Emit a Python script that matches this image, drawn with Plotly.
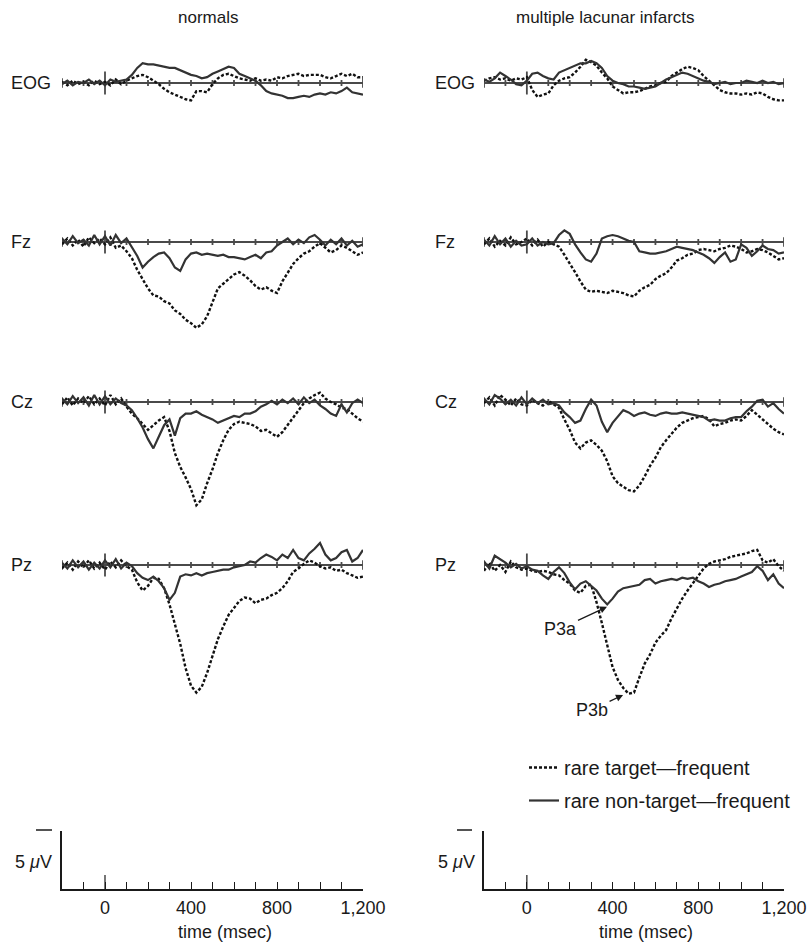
import plotly.graph_objects as go

# ---------------- data (µV, positive plotted downward) ----------------
TIME_MS = list(range(-200, 1201, 25))
TICKS_MS = list(range(-200, 1201, 100))
TICK_LABEL_MS = [0, 400, 800, 1200]
TICK_LABELS = ["0", "400", "800", "1,200"]
CHANNELS = ["EOG", "Fz", "Cz", "Pz"]
GROUPS = ["normals", "multiple lacunar infarcts"]
SERIES_NAMES = ["rare target\u2014frequent", "rare non-target\u2014frequent"]

# normals: rare target - frequent (dotted)
N_EOG_T = [-0.1, 0.2, -0.2, 0.1, -0.1, 0.2, -0.2, 0.1,
           -0.1, 0.2, -0.3, 0.1, -0.2, -0.4, -0.6, -0.7,
           -0.5, -0.2, 0.1, 0.5, 0.8, 1.0, 1.2, 1.4,
           1.5, 0.7, 0.7, 0.8, 0.1, -0.4, -0.7, -0.8,
           -0.6, -0.4, -0.3, -0.2, -0.4, -0.2, -0.3, -0.2,
           -0.5, -0.4, -0.6, -0.7, -0.8, -0.6, -0.7, -0.7,
           -0.7, -0.5, -0.4, -0.6, -0.8, -0.6, -0.8, -0.5,
           -0.5]
N_FZ_T = [0.2, -0.3, 0.3, -0.2, 0.4, -0.4, 0.1, -0.3,
          0.2, -0.4, 0.5, 0.3, 0.8, 1.4, 2.4, 3.2,
          4.0, 4.6, 4.7, 5.1, 5.3, 5.9, 6.2, 6.7,
          7.0, 7.4, 7.1, 6.4, 5.2, 4.0, 3.6, 3.2,
          2.8, 2.6, 2.9, 3.3, 3.8, 4.1, 3.9, 4.2,
          4.4, 3.4, 2.6, 1.9, 1.4, 1.0, 0.8, 0.4,
          0.1, 0.5, 0.9, 0.7, 0.3, 0.5, 0.8, 1.1,
          0.9]
N_CZ_T = [0.2, -0.4, 0.3, -0.3, 0.1, -0.5, 0.2, -0.3,
          0.3, -0.6, 0.2, -0.3, 0.4, 1.0, 1.4, 1.9,
          2.4, 2.0, 1.6, 1.3, 2.5, 4.4, 5.6, 6.5,
          7.5, 8.9, 8.4, 7.0, 5.8, 4.4, 3.3, 2.4,
          1.9, 1.7, 1.8, 1.9, 2.1, 2.5, 2.4, 2.7,
          3.0, 2.6, 2.0, 1.3, 0.8, 0.1, -0.3, -0.6,
          -0.8, -0.3, 0.0, 0.2, 0.5, 0.6, 1.0, 1.4,
          1.7]
N_PZ_T = [0.3, -0.2, 0.4, -0.3, 0.2, -0.4, 0.3, -0.2,
          0.4, -0.3, 0.2, -0.4, 0.1, 0.4, 1.5, 2.2,
          1.8, 1.1, 1.2, 2.0, 3.4, 5.2, 6.8, 8.9,
          10.4, 11.0, 10.5, 9.3, 7.8, 6.4, 5.3, 4.3,
          3.7, 3.1, 2.8, 2.9, 3.3, 3.0, 2.9, 2.6,
          2.4, 2.0, 1.4, 0.6, 0.3, -0.1, -0.4, -0.2,
          0.1, 0.3, 0.2, 0.5, 0.4, 0.7, 0.9, 1.1,
          1.0]

# normals: rare non-target - frequent (solid)
N_EOG_N = [0.1, -0.2, 0.2, -0.1, 0.0, -0.3, 0.1, -0.2,
           0.2, -0.3, -0.1, -0.2, -0.3, -0.7, -1.3, -1.7,
           -1.6, -1.6, -1.5, -1.4, -1.3, -1.3, -1.1, -0.9,
           -0.7, -0.6, -0.4, -0.5, -0.8, -1.0, -1.2, -1.4,
           -1.3, -0.8, -0.6, -0.4, -0.2, 0.2, 0.7, 0.9,
           1.0, 1.1, 1.3, 1.3, 1.2, 1.1, 1.2, 1.0,
           0.9, 1.0, 0.8, 0.9, 0.7, 0.4, 0.8, 0.9,
           1.0]
N_FZ_N = [-0.3, 0.2, -0.5, 0.1, -0.2, 0.3, -0.6, 0.2,
          -0.5, 0.3, -0.6, 0.1, -0.3, 0.4, 1.2, 2.2,
          1.7, 1.3, 1.0, 0.9, 1.4, 2.2, 2.5, 1.5,
          1.0, 0.9, 1.1, 1.0, 1.1, 1.2, 1.1, 1.3,
          1.3, 1.4, 1.5, 1.3, 1.1, 1.4, 0.9, 0.8,
          0.3, 0.0, -0.3, 0.2, -0.2, 0.1, -0.4, -0.6,
          -0.2, 0.3, -0.2, 0.2, -0.3, 0.3, -0.1, 0.4,
          0.2]
N_CZ_N = [-0.3, 0.2, -0.5, 0.1, -0.4, 0.3, -0.6, 0.2,
          -0.5, 0.2, -0.3, 0.1, 0.3, 0.7, 1.4, 2.2,
          3.2, 4.0, 3.0, 2.0, 1.5, 2.9, 1.4, 1.0,
          1.0, 0.8, 1.1, 1.3, 1.5, 1.8, 1.6, 1.4,
          1.2, 1.3, 1.0, 1.0, 0.8, 0.4, 0.2, -0.1,
          0.2, -0.2, 0.1, -0.3, 0.2, -0.4, 0.1, -0.2,
          0.3, 0.6, 1.0, 1.2, 0.2, 0.9, 0.1, -0.2,
          0.1]
N_PZ_N = [-0.2, 0.3, -0.4, 0.2, -0.3, 0.4, -0.2, 0.3,
          -0.4, 0.2, -0.5, 0.3, -0.2, 0.1, 0.7, 1.1,
          1.3, 1.0, 1.4, 2.0, 3.0, 2.4, 1.0, 0.8,
          0.9, 0.7, 0.9, 0.7, 0.6, 0.5, 0.4, 0.4,
          0.2, 0.1, 0.0, -0.3, -0.2, -0.6, -0.9, -0.7,
          -0.4, -0.9, -0.6, -1.3, -0.6, -0.4, -1.0, -1.4,
          -1.9, -0.9, -0.4, -0.6, -1.1, -1.3, -0.3, -0.6,
          -1.3]

# multiple lacunar infarcts: rare target - frequent (dotted)
L_EOG_T = [-0.2, -0.4, -0.5, -0.3, -0.4, -0.2, -0.4, -0.3,
           -0.5, 0.6, 1.2, 1.0, 0.9, 0.2, -0.2, -0.4,
           -0.5, -0.9, -1.4, -2.0, -1.8, -1.5, -0.9, -0.4,
           0.3, 0.6, 0.9, 0.8, 0.8, 0.7, 0.5, 0.3,
           0.2, 0.0, -0.1, -0.6, -0.9, -1.2, -1.4, -1.3,
           -1.1, -0.6, -0.2, 0.2, 0.6, 0.8, 0.9, 0.9,
           1.0, 0.9, 1.0, 0.8, 0.9, 1.2, 1.4, 1.5,
           1.5]
L_FZ_T = [0.2, -0.3, 0.4, -0.1, 0.3, -0.4, 0.2, 0.0,
          -0.3, 0.3, -0.2, 0.4, 0.0, 0.2, 0.4, 1.1,
          1.8, 2.6, 3.4, 4.1, 4.3, 4.2, 4.3, 4.4,
          4.2, 4.3, 4.4, 4.6, 4.7, 4.2, 3.9, 3.7,
          3.2, 2.9, 2.7, 2.2, 1.6, 1.4, 1.1, 1.0,
          0.7, 0.6, 0.7, 0.8, 0.6, 0.5, 0.3, 0.4,
          0.6, 0.9, 0.8, 0.6, 0.7, 0.9, 1.2, 1.5,
          1.4]
L_CZ_T = [0.1, -0.4, 0.3, -0.6, -0.2, 0.3, -0.3, 0.2,
          0.3, -0.2, 0.1, 0.3, -0.1, 0.2, 0.5, 1.5,
          2.4, 3.5, 4.0, 3.5, 3.3, 3.7, 4.2, 5.1,
          6.4, 7.0, 7.3, 7.6, 7.7, 7.2, 6.4, 5.5,
          4.8, 3.9, 3.3, 2.7, 2.2, 1.8, 1.6, 1.4,
          1.3, 1.2, 1.5, 2.1, 1.9, 1.8, 1.6, 1.5,
          1.6, 1.2, 0.7, 1.1, 1.5, 1.9, 2.3, 2.6,
          2.8]
L_PZ_T = [0.5, -0.2, 0.5, 0.0, 0.6, -0.3, 0.2, 0.4,
          0.3, 0.5, 0.6, 0.5, 0.6, 0.8, 0.9, 1.3,
          1.6, 2.2, 2.4, 1.8, 1.7, 3.2, 5.0, 6.9,
          8.8, 9.9, 10.6, 11.1, 11.0, 9.7, 8.5, 7.7,
          6.7, 6.1, 5.6, 4.6, 3.7, 2.9, 2.2, 1.6,
          1.0, 0.3, -0.1, -0.3, -0.4, -0.5, -0.7, -0.8,
          -0.9, -1.0, -1.2, -1.3, -0.4, -0.2, -0.5, 0.1,
          0.5]

# multiple lacunar infarcts: rare non-target - frequent (solid)
L_EOG_N = [-0.3, -0.1, -0.4, -0.9, -0.6, -0.3, 0.1, 0.2,
           -0.2, -0.8, -0.9, -0.6, -0.4, -0.3, -0.9, -1.1,
           -1.3, -1.5, -1.7, -1.7, -1.9, -1.7, -1.3, -0.6,
           -0.2, 0.0, 0.1, 0.3, 0.3, 0.4, 0.5, 0.4,
           0.3, 0.0, -0.3, -0.5, -0.7, -0.9, -0.8, -0.6,
           -0.4, -0.2, -0.1, 0.1, 0.0, -0.1, 0.1, 0.0,
           0.0, -0.2, -0.1, 0.0, -0.2, 0.0, -0.1, 0.1,
           0.0]
L_FZ_N = [-0.2, 0.3, -0.5, 0.2, -0.3, 0.4, -0.1, 0.3,
          0.2, -0.3, 0.3, 0.0, 0.2, 0.1, -0.6, -1.0,
          -0.7, 0.2, 0.9, 1.5, 1.7, 1.0, -0.3, -0.5,
          -0.6, -0.5, -0.3, -0.1, 0.0, 0.8, 0.9, 1.0,
          1.0, 0.9, 0.8, 0.6, 0.4, 0.5, 0.6, 0.7,
          0.9, 1.1, 1.4, 1.8, 1.3, 0.9, 1.7, 1.5,
          0.2, 0.5, 1.2, 0.8, 0.3, 0.6, 0.7, 1.0,
          0.9]
L_CZ_N = [-0.3, 0.2, -0.6, -0.3, 0.2, -0.2, 0.3, -0.4,
          0.2, -0.3, 0.1, -0.2, 0.2, 0.1, 0.3, 0.9,
          1.3, 1.8, 1.6, 0.6, -0.2, 0.3, 1.7, 2.6,
          1.8, 1.2, 0.7, 0.9, 1.2, 1.0, 0.9, 1.1,
          1.2, 1.0, 0.9, 1.0, 1.0, 0.9, 1.0, 1.1,
          1.2, 1.3, 1.6, 1.5, 1.6, 1.6, 1.4, 1.3,
          1.3, 0.8, 0.4, -0.1, -0.2, 0.4, 0.1, 0.6,
          1.0]
L_PZ_N = [-0.3, 0.3, -0.8, -0.5, -0.2, 0.2, -0.1, 0.3,
          0.1, 0.4, 0.5, 0.9, 1.2, 0.6, 0.2, 0.7,
          1.5, 2.1, 1.6, 1.4, 1.8, 2.2, 2.9, 3.4,
          2.9, 2.3, 2.0, 1.9, 1.8, 1.7, 1.3, 1.2,
          1.6, 1.4, 1.3, 1.2, 1.3, 1.1, 1.2, 1.1,
          1.4, 1.6, 1.9, 1.7, 1.6, 1.4, 1.3, 1.2,
          1.0, 0.8, 0.6, 0.1, 0.5, 1.3, 0.8, 1.6,
          2.0]

TARGET = [[N_EOG_T, N_FZ_T, N_CZ_T, N_PZ_T], [L_EOG_T, L_FZ_T, L_CZ_T, L_PZ_T]]
NONTARGET = [[N_EOG_N, N_FZ_N, N_CZ_N, N_PZ_N], [L_EOG_N, L_FZ_N, L_CZ_N, L_PZ_N]]
for grp in TARGET + NONTARGET:
    for s in grp:
        assert len(s) == len(TIME_MS), len(s)

# ---------------- layout geometry (pixels) ----------------
W, H = 810, 942
COL_PX = [(62, 363), (484, 784)]
ROW_BASE_PX = [83, 242, 402, 565]
CAL_BASE_PX = 889
PX_PER_UV = 11.6
PANEL_UV = (-3.0, 12.5)
FONT = "Liberation Sans, Arial, Helvetica, sans-serif"
INK = "#1a1a1a"


def px_x(p):
    return p / W


def px_y(p):
    return 1 - p / H


def ydom(base, lo, hi):
    top = base + lo * PX_PER_UV
    bot = base + hi * PX_PER_UV
    return [px_y(bot), px_y(top)]


fig = go.Figure()
layout = dict(
    width=W, height=H, autosize=False,
    margin=dict(l=0, r=0, t=0, b=0, autoexpand=False),
    paper_bgcolor="white", plot_bgcolor="rgba(0,0,0,0)",
    font=dict(family=FONT, size=18, color=INK),
    showlegend=True,
)

for c in range(2):
    xd = [px_x(COL_PX[c][0]), px_x(COL_PX[c][1])]
    xname = "xaxis" if c == 0 else "xaxis2"
    layout[xname] = dict(domain=xd, range=[-200, 1200], visible=False,
                         anchor="y" if c == 0 else "y5", fixedrange=True,
                         automargin=False)
    xref = "x" if c == 0 else "x2"
    for r in range(4):
        k = c * 4 + r + 1
        yname = "yaxis" if k == 1 else f"yaxis{k}"
        yref = "y" if k == 1 else f"y{k}"
        layout[yname] = dict(domain=ydom(ROW_BASE_PX[r], *PANEL_UV),
                             range=[PANEL_UV[1], PANEL_UV[0]], visible=False,
                             anchor=xref, fixedrange=True, automargin=False)
        # baseline with tick marks
        bx, by = [TICKS_MS[0], TICKS_MS[-1], None], [0, 0, None]
        for t in TICKS_MS:
            h = 1.0 if t == 0 else (0.4 if t in (TICKS_MS[0], TICKS_MS[-1]) else 0.25)
            bx += [t, t, None]
            by += [-h, h, None]
        fig.add_trace(go.Scatter(x=bx, y=by, xaxis=xref, yaxis=yref, mode="lines",
                                 line=dict(color="#4a4a4a", width=1.8),
                                 hoverinfo="skip", showlegend=False))
        fig.add_trace(go.Scatter(x=TIME_MS, y=TARGET[c][r], xaxis=xref, yaxis=yref,
                                 mode="lines", name=SERIES_NAMES[0],
                                 legendgroup="t", showlegend=(k == 1),
                                 line=dict(color="#111111", width=2.4, dash="3px,2px")))
        fig.add_trace(go.Scatter(x=TIME_MS, y=NONTARGET[c][r], xaxis=xref, yaxis=yref,
                                 mode="lines", name=SERIES_NAMES[1],
                                 legendgroup="n", showlegend=(k == 1),
                                 line=dict(color="#333333", width=2.2)))

    # calibration / time axis panel
    xa = 3 + c
    ya = 9 + c
    layout[f"xaxis{xa}"] = dict(
        domain=xd, range=[-200, 1200], anchor=f"y{ya}", fixedrange=True,
        automargin=False,
        showline=True, linecolor=INK, linewidth=1.5, showgrid=False, zeroline=False,
        ticks="inside", ticklen=7, tickwidth=1.2, tickcolor=INK,
        tickvals=TICKS_MS[1:],
        ticktext=[TICK_LABELS[TICK_LABEL_MS.index(t)] if t in TICK_LABEL_MS else ""
                  for t in TICKS_MS[1:]],
        tickfont=dict(size=18, color=INK), ticklabelstandoff=2,
    )
    layout[f"yaxis{ya}"] = dict(
        domain=ydom(CAL_BASE_PX, -5, 0), range=[0, -5], anchor=f"x{xa}",
        fixedrange=True, automargin=False, showline=True, linecolor=INK, linewidth=1.5,
        showgrid=False, zeroline=False, ticks="", showticklabels=False,
    )
    fig.add_trace(go.Scatter(x=[0, 0], y=[0, -1.2], xaxis=f"x{xa}", yaxis=f"y{ya}",
                             mode="lines", line=dict(color=INK, width=1.2),
                             hoverinfo="skip", showlegend=False))

fig.update_layout(**layout)

ann = []
# column titles
for c, (cx, txt) in enumerate(zip([208, 605], GROUPS)):
    ann.append(dict(x=px_x(cx), y=px_y(18), xref="paper", yref="paper", text=txt,
                    showarrow=False, xanchor="center", yanchor="middle",
                    font=dict(size=17)))
# channel labels
for c, lx in enumerate([9, 433]):
    for r, ch in enumerate(CHANNELS):
        ann.append(dict(x=px_x(lx), y=px_y(ROW_BASE_PX[r]), xref="paper", yref="paper",
                        text=ch, showarrow=False, xanchor="left", yanchor="middle",
                        font=dict(size=18)))
# 5 µV labels and time titles
for c, (lx, tx) in enumerate([(33, 225), (456, 646)]):
    ann.append(dict(x=px_x(lx), y=px_y(862), xref="paper", yref="paper",
                    text="5 <i>\u03bc</i>V", showarrow=False, xanchor="center",
                    yanchor="middle", font=dict(size=18)))
    ann.append(dict(x=px_x(tx), y=px_y(932), xref="paper", yref="paper",
                    text="time (msec)", showarrow=False, xanchor="center",
                    yanchor="middle", font=dict(size=18)))
# P3a / P3b
ann.append(dict(x=374, y=3.6, xref="x2", yref="y8", text="P3a", showarrow=True,
                ax=-47, ay=22, arrowhead=2, arrowsize=1.1, arrowwidth=1.3,
                arrowcolor=INK, font=dict(size=18)))
ann.append(dict(x=449, y=11.2, xref="x2", yref="y8", text="P3b", showarrow=True,
                ax=-31, ay=15, arrowhead=2, arrowsize=1.1, arrowwidth=1.3,
                arrowcolor=INK, font=dict(size=18)))
fig.update_layout(annotations=ann)

# little top marks of the 5 µV calibration bars
shapes = []
for x0, x1 in [(36, 52), (457, 472)]:
    shapes.append(dict(type="line", xref="paper", yref="paper",
                       x0=px_x(x0), x1=px_x(x1), y0=px_y(830), y1=px_y(830),
                       line=dict(color=INK, width=1.5)))
fig.update_layout(shapes=shapes)

fig.update_layout(legend=dict(
    x=px_x(524), y=px_y(748), xanchor="left", yanchor="top",
    bgcolor="rgba(0,0,0,0)", font=dict(size=20), tracegroupgap=4,
    traceorder="grouped", itemclick=False, itemdoubleclick=False,
))

fig.write_html("out.html")
